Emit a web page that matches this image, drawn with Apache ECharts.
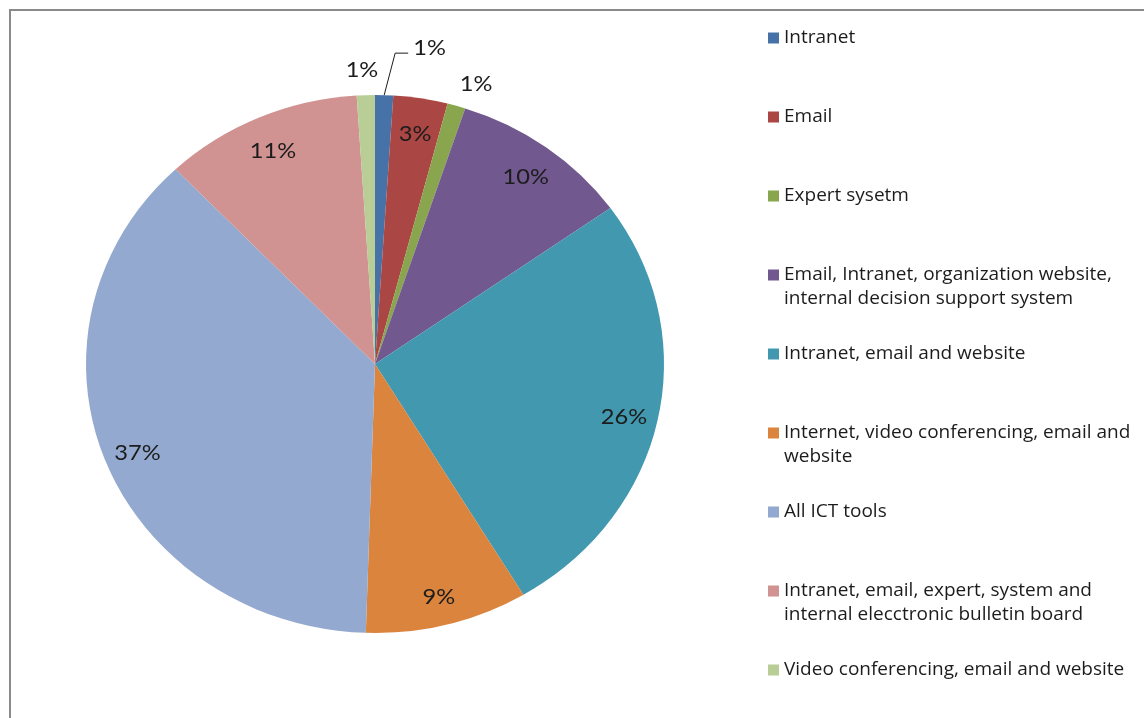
<!DOCTYPE html>
<html>
<head>
<meta charset="utf-8">
<title>ICT tools used</title>
<script src="https://cdn.jsdelivr.net/npm/echarts@6/dist/echarts.min.js"></script>
<style>
  html, body { margin: 0; padding: 0; background: #ffffff; }
  #chart { width: 1144px; height: 718px; }
</style>
</head>
<body>
<div id="chart"></div>
<script>
// Categories of ICT tools and their share (%) of respondents
const categories = [
  'Intranet',
  'Email',
  'Expert sysetm',
  'Email, Intranet, organization website, internal decision support system',
  'Intranet, email and website',
  'Internet, video conferencing, email and website',
  'All ICT tools',
  'Intranet, email, expert, system and internal elecctronic bulletin board',
  'Video conferencing, email and website'
];
const shares = [1, 3, 1, 10, 26, 9, 37, 11, 1];
const colors = ['#4672a8', '#aa4643', '#89a54e', '#71588f', '#4198af', '#db843d', '#93a9cf', '#d19392', '#b9cd96'];

// Pie geometry: the disc is drawn slightly wider than tall
const CENTER = [375, 364];
const RY = 269;
const SX = 289 / 269;
const LABEL_FONT = 'Lato, "Open Sans", sans-serif';
const LEGEND_FONT = '"Open Sans", Lato, sans-serif';
const TEXT_COLOR = '#1c1c1c';

const total = shares.reduce((a, b) => a + b, 0);

// Small outside labels: a few get a nudge or a leader line so they don't collide
const outsideNudge = { 2: [12, 3], 8: [-3, 0] };
const leaderIndex = 0;

function wrapLegend(name) {
  const words = name.split(' ');
  const lines = [];
  let cur = '';
  words.forEach(w => {
    const next = cur ? cur + ' ' + w : w;
    if (next.length > 40 && cur) { lines.push(cur); cur = w; } else { cur = next; }
  });
  lines.push(cur);
  return lines;
}

function renderSlice(params, api) {
  const i = params.seriesIndex;
  const before = shares.slice(0, i).reduce((a, b) => a + b, 0);
  const a0 = before / total * Math.PI * 2;
  const a1 = (before + api.value(0)) / total * Math.PI * 2;
  const mid = (a0 + a1) / 2;
  const [cx, cy] = CENTER;
  const children = [{
    type: 'sector',
    x: cx, y: cy, scaleX: SX,
    shape: { cx: 0, cy: 0, r0: 0, r: RY, startAngle: a0 - Math.PI / 2, endAngle: a1 - Math.PI / 2, clockwise: true },
    style: { fill: api.visual('color') }
  }];
  const text = api.value(0) + '%';
  const labelStyle = { text: text, x: 0, y: 0, fill: TEXT_COLOR, fontFamily: LABEL_FONT, fontSize: 22 };
  if (api.value(0) >= 3) {
    const r = RY * 0.88;
    children.push({
      type: 'text', z2: 100, scaleX: SX,
      x: cx + Math.sin(mid) * r * SX, y: cy - Math.cos(mid) * r + 4,
      style: Object.assign({ align: 'center', verticalAlign: 'middle' }, labelStyle)
    });
  } else if (i === leaderIndex) {
    const ex = cx + Math.sin(mid) * RY * SX, ey = cy - Math.cos(mid) * RY;
    const bx = ex + 11, by = ey - 42;
    children.push({
      type: 'polyline', z2: 100,
      shape: { points: [[ex, ey], [bx, by], [bx + 13, by]] },
      style: { stroke: '#1c1c1c', lineWidth: 1, fill: null }
    });
    children.push({
      type: 'text', z2: 100, scaleX: SX,
      x: bx + 18, y: by - 5,
      style: Object.assign({ align: 'left', verticalAlign: 'middle' }, labelStyle)
    });
  } else {
    const r = RY * 1.095;
    const nudge = outsideNudge[i] || [0, 0];
    children.push({
      type: 'text', z2: 100, scaleX: SX,
      x: cx + Math.sin(mid) * r * SX + nudge[0], y: cy - Math.cos(mid) * r + nudge[1],
      style: Object.assign({ align: 'center', verticalAlign: 'middle' }, labelStyle)
    });
  }
  return { type: 'group', children: children };
}

const series = categories.map((name, i) => ({
  type: 'custom',
  name: name,
  coordinateSystem: 'none',
  itemStyle: { color: colors[i] },
  data: [shares[i]],
  renderItem: renderSlice
}));

// One legend block per category so that each square sits beside the first text line
const LINE_H = 24, SQ = 11;
const legends = categories.map((name, i) => {
  const lines = wrapLegend(name).length;
  const h = SQ + LINE_H * (lines - 1);
  const icon = lines > 1 ? 'path://M0,0H' + SQ + 'V' + SQ + 'H0Z M0,' + h + 'H' + SQ : 'rect';
  return {
    data: [{ name: name, icon: icon }],
    left: 768,
    top: 26 + i * 79,
    padding: 0,
    itemWidth: SQ,
    itemHeight: h,
    selectedMode: false,
    itemStyle: { borderWidth: 0 },
    formatter: n => wrapLegend(n).join('\n'),
    textStyle: { fontFamily: LEGEND_FONT, fontSize: 19, color: TEXT_COLOR, lineHeight: LINE_H }
  };
});

const chart = echarts.init(document.getElementById('chart'), null, { renderer: 'canvas' });
chart.setOption({
  animation: false,
  backgroundColor: '#ffffff',
  graphic: [{
    type: 'rect',
    shape: { x: 10, y: 10, width: 1400, height: 1000 },
    style: { fill: null, stroke: '#8a8a8a', lineWidth: 2 },
    silent: true
  }],
  legend: legends,
  series: series
});
</script>
</body>
</html>
